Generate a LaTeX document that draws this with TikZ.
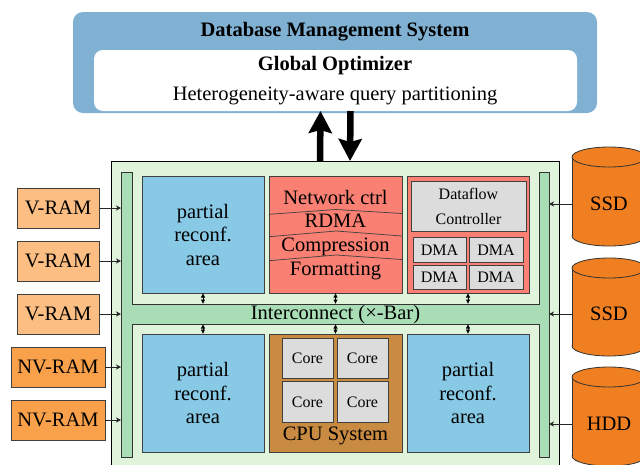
\documentclass[tikz,border=0pt]{standalone}
\usepackage{fontspec}
\setmainfont{Liberation Serif}
\usetikzlibrary{arrows.meta}
\definecolor{dbblue}{HTML}{80B1D3}
\definecolor{fpgabg}{HTML}{E0F3DB}
\definecolor{icgreen}{HTML}{A8DDB5}
\definecolor{prblue}{HTML}{88C9E6}
\definecolor{salmonr}{HTML}{F98072}
\definecolor{lgray}{HTML}{DCDCDC}
\definecolor{cpubrown}{HTML}{C98A41}
\definecolor{vram}{HTML}{FCBE82}
\definecolor{nvram}{HTML}{F9A04A}
\definecolor{cylc}{HTML}{F07F22}
\begin{document}
\begin{tikzpicture}[x=1pt,y=-1pt,
  every node/.style={inner sep=0pt, outer sep=0pt},
  big/.style={font=\fontsize{20.5}{23.5}\selectfont},
  bigbf/.style={font=\fontsize{20.5}{23.5}\selectfont\bfseries},
  small/.style={font=\fontsize{16}{25}\selectfont},
  lbl/.style={anchor=base},
  blk/.style={draw=black!75, line width=0.8pt, align=center},
  bigarrow/.style={line width=6.5pt, -{Stealth[length=22pt,width=23pt,inset=3pt]}},
  memarrow/.style={line width=0.7pt, draw=black!85, -{Stealth[length=5pt,width=5pt,inset=1.5pt]}},
  smallarr/.style={line width=0.7pt, {Latex[length=4.5pt,width=4.5pt]}-{Latex[length=4.5pt,width=4.5pt]}},
  cyld/.style={draw=black!80, line width=0.8pt}
]
\useasboundingbox (0,0) rectangle (640,464);

% DBMS
\node[fill=dbblue, rounded corners=10pt, minimum width=524pt, minimum height=101pt] (dbms) at (335,62.5) {};
\node[bigbf, lbl] (dbtitle) at (335,36.5) {Database Management System};
\node[fill=white, rounded corners=9pt, minimum width=483pt, minimum height=61pt] (gopt) at (335.5,80.5) {};
\node[bigbf, lbl] (gotitle) at (335,70.5) {Global Optimizer};
\node[big, lbl] (gotext) at (335,100) {Heterogeneity-aware query partitioning};

% FPGA
\node[draw=black, line width=0.8pt, fill=fpgabg, minimum width=448pt, minimum height=309pt] (fpga) at (335,315.5) {};

\draw[bigarrow] ([xshift=-15pt]fpga.north) -- ([xshift=-15pt]gopt.south);
\draw[bigarrow] ([xshift=15pt]gopt.south) -- ([xshift=15pt]fpga.north);

% Interconnect H shape
\draw[fill=icgreen, draw=black!80, line width=0.8pt]
  (121,172) -- (132,172) -- (132,304) -- (539,304) -- (539,172) -- (549,172)
  -- (549,457) -- (539,457) -- (539,324) -- (132,324) -- (132,457) -- (121,457) -- cycle;
\node[big, lbl] (ic) at (335.5,319.3) {Interconnect (×-Bar)};
\coordinate (bandT) at (0,304);
\coordinate (bandB) at (0,324);
\coordinate (lbar) at (121,0);
\coordinate (rbar) at (549,0);

% upper blocks
\node[blk, fill=prblue, big, minimum width=122pt, minimum height=117pt] (prA) at (203,234.5) {partial\\reconf.\\area};
\node[blk, fill=salmonr, minimum width=133pt, minimum height=117pt] (net) at (335.5,234.5) {};
\draw[draw=black!75, line width=0.7pt] (269,214.3) -- (336,209.5) -- (402,213.5);
\draw[draw=black!75, line width=0.7pt] (269,236.7) -- (336,231) -- (402,236);
\draw[draw=black!75, line width=0.7pt] (269,260.7) -- (336,255) -- (402,259.5);
\node[big, lbl] (netctrl) at (335.5,204.3) {Network ctrl};
\node[big, lbl] (rdma) at (335.5,227.7) {RDMA};
\node[big, lbl] (compr) at (335.5,251) {Compression};
\node[big, lbl] (fmt) at (335.5,275) {Formatting};

\node[blk, fill=salmonr, minimum width=122pt, minimum height=117pt] (dmab) at (468,234.5) {};
\node[blk, fill=lgray, small, minimum width=115pt, minimum height=50pt] (dfc) at (468.5,206) {Dataflow\\Controller};
\node[blk, fill=lgray, small, minimum width=53pt, minimum height=24.5pt] (dma1) at (439.5,250) {DMA};
\node[blk, fill=lgray, small, minimum width=54pt, minimum height=24.5pt] (dma2) at (496,250) {DMA};
\node[blk, fill=lgray, small, minimum width=53pt, minimum height=24.5pt] (dma3) at (439.5,277.5) {DMA};
\node[blk, fill=lgray, small, minimum width=54pt, minimum height=24.5pt] (dma4) at (496,277.5) {DMA};

% lower blocks
\node[blk, fill=prblue, big, minimum width=122pt, minimum height=118pt] (prB) at (203,393) {partial\\reconf.\\area};
\node[blk, fill=cpubrown, minimum width=133pt, minimum height=118pt] (cpu) at (335.5,393) {};
\node[blk, fill=lgray, small, minimum width=51pt, minimum height=40.5pt] (core1) at (307.5,358.5) {Core};
\node[blk, fill=lgray, small, minimum width=51pt, minimum height=40.5pt] (core2) at (362.5,358.5) {Core};
\node[blk, fill=lgray, small, minimum width=51pt, minimum height=40.5pt] (core3) at (307.5,402) {Core};
\node[blk, fill=lgray, small, minimum width=51pt, minimum height=40.5pt] (core4) at (362.5,402) {Core};
\node[big, lbl] (cpulbl) at (335.5,440.7) {CPU System};
\node[blk, fill=prblue, big, minimum width=122pt, minimum height=118pt] (prC) at (468,393) {partial\\reconf.\\area};

% small connectors to interconnect
\draw[smallarr] (prA.south) -- (prA.south |- bandT);
\draw[smallarr] (net.south) -- (net.south |- bandT);
\draw[smallarr] (dmab.south) -- (dmab.south |- bandT);
\draw[smallarr] (prB.north |- bandB) -- (prB.north);
\draw[smallarr] (cpu.north |- bandB) -- (cpu.north);
\draw[smallarr] (prC.north |- bandB) -- (prC.north);

% memories
\node[blk, fill=vram, big, minimum width=82pt, minimum height=40pt] (v1) at (58,208) {V-RAM};
\node[blk, fill=vram, big, minimum width=82pt, minimum height=40pt] (v2) at (58,261) {V-RAM};
\node[blk, fill=vram, big, minimum width=82pt, minimum height=40pt] (v3) at (58,314) {V-RAM};
\node[blk, fill=nvram, big, minimum width=94pt, minimum height=40pt] (nv1) at (58,367) {NV-RAM};
\node[blk, fill=nvram, big, minimum width=94pt, minimum height=40pt] (nv2) at (58,420) {NV-RAM};
\foreach \m in {v1,v2,v3,nv1,nv2}
  \draw[memarrow] (\m.east) -- (\m.east -| lbar);

% storage cylinders
\foreach \t/\b in {157/236, 268/346, 377/456}{
  \fill[cylc] (609,\b) ellipse [x radius=37pt, y radius=10pt];
  \draw[cyld] (609,\b) ellipse [x radius=37pt, y radius=10pt];
  \fill[cylc] (572,\t) rectangle (646,\b);
  \draw[cyld] (572,\t) -- (572,\b) (646,\t) -- (646,\b);
  \filldraw[cyld, fill=cylc] (609,\t) ellipse [x radius=37pt, y radius=10pt];
}
\node[big, minimum width=74pt] (ssd1) at (609,204) {SSD};
\node[big, minimum width=74pt] (ssd2) at (609,314) {SSD};
\node[big, minimum width=74pt] (hdd) at (609,424) {HDD};
\foreach \s in {ssd1,ssd2,hdd}
  \draw[memarrow] (\s.west) -- (\s.west -| rbar);
\end{tikzpicture}
\end{document}
